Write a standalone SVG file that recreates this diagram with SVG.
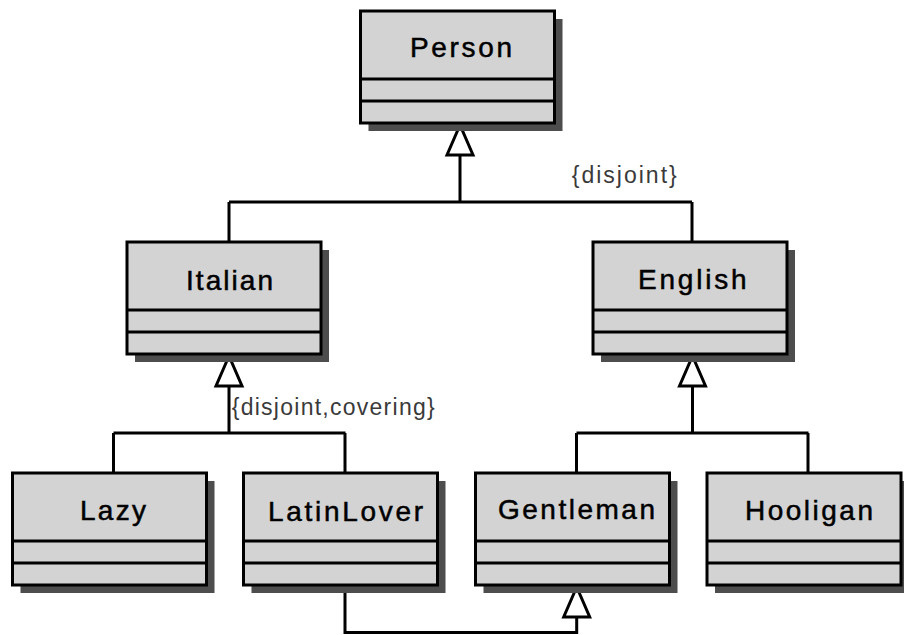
<svg xmlns="http://www.w3.org/2000/svg" width="904" height="635" viewBox="0 0 904 635">
<style>
.shadow{fill:#4d4d4d;stroke:none}
.box{fill:#d3d3d3;stroke:#000;stroke-width:3}
.div{stroke:#000;stroke-width:3}
.name{font-family:"Liberation Sans",Arial,sans-serif;font-size:28px;fill:#000;stroke:#000;stroke-width:0.5}
.conn{fill:none;stroke:#000;stroke-width:3}
.tri{fill:#fff;stroke:#000;stroke-width:3;stroke-linejoin:miter}
.lbl{font-family:"Liberation Sans",Arial,sans-serif;font-size:23px;fill:#3a3a3a}
</style>
<rect width="904" height="635" fill="#fff"/>
<g id="connectors">
<path class="conn" d="M460,155 V202 M229,202 H692 M229,202 V242 M692,202 V242"/>
<polygon class="tri" points="460,125 447,155 473,155"/>
<path class="conn" d="M229,386 V433 M113.5,433 H345.5 M113.5,433 V473 M345,433 V473"/>
<polygon class="tri" points="229,356 216,386 242,386"/>
<path class="conn" d="M692.5,386 V433 M576.5,433 H808.5 M576.5,433 V473 M808,433 V473"/>
<polygon class="tri" points="692.5,356 679.5,386 705.5,386"/>
<path class="conn" d="M345,585 V632.5 H576.7 V617"/>
<polygon class="tri" points="576.7,587 563.7,617 589.7,617"/>
<text class="lbl" x="571.7" y="183" textLength="105" lengthAdjust="spacing">{disjoint}</text>
<text class="lbl" x="231.7" y="415" textLength="203" lengthAdjust="spacing">{disjoint,covering}</text>
</g>
<g id="Person">
<rect class="shadow" x="368.5" y="19" width="194" height="112"/>
<rect class="box" x="360.5" y="11" width="194" height="112"/>
<line class="div" x1="360.5" y1="79" x2="554.5" y2="79"/>
<line class="div" x1="360.5" y1="101" x2="554.5" y2="101"/>
<text class="name" x="410" y="57" textLength="102" lengthAdjust="spacing">Person</text>
</g>
<g id="Italian">
<rect class="shadow" x="135" y="250" width="194" height="112"/>
<rect class="box" x="127" y="242" width="194" height="112"/>
<line class="div" x1="127" y1="310" x2="321" y2="310"/>
<line class="div" x1="127" y1="332" x2="321" y2="332"/>
<text class="name" x="186" y="290" textLength="87" lengthAdjust="spacing">Italian</text>
</g>
<g id="English">
<rect class="shadow" x="601" y="250" width="194" height="112"/>
<rect class="box" x="593" y="242" width="194" height="112"/>
<line class="div" x1="593" y1="310" x2="787" y2="310"/>
<line class="div" x1="593" y1="332" x2="787" y2="332"/>
<text class="name" x="638" y="289" textLength="108.7" lengthAdjust="spacing">English</text>
</g>
<g id="Lazy">
<rect class="shadow" x="20.5" y="481" width="194" height="112"/>
<rect class="box" x="12.5" y="473" width="194" height="112"/>
<line class="div" x1="12.5" y1="541" x2="206.5" y2="541"/>
<line class="div" x1="12.5" y1="563" x2="206.5" y2="563"/>
<text class="name" x="80" y="520" textLength="66" lengthAdjust="spacing">Lazy</text>
</g>
<g id="LatinLover">
<rect class="shadow" x="251.5" y="481" width="194" height="112"/>
<rect class="box" x="243.5" y="473" width="194" height="112"/>
<line class="div" x1="243.5" y1="541" x2="437.5" y2="541"/>
<line class="div" x1="243.5" y1="563" x2="437.5" y2="563"/>
<text class="name" x="268" y="521" textLength="155" lengthAdjust="spacing">LatinLover</text>
</g>
<g id="Gentleman">
<rect class="shadow" x="483.5" y="481" width="194" height="112"/>
<rect class="box" x="475.5" y="473" width="194" height="112"/>
<line class="div" x1="475.5" y1="541" x2="669.5" y2="541"/>
<line class="div" x1="475.5" y1="563" x2="669.5" y2="563"/>
<text class="name" x="498" y="519" textLength="157" lengthAdjust="spacing">Gentleman</text>
</g>
<g id="Hooligan">
<rect class="shadow" x="715" y="481" width="194" height="112"/>
<rect class="box" x="707" y="473" width="194" height="112"/>
<line class="div" x1="707" y1="541" x2="901" y2="541"/>
<line class="div" x1="707" y1="563" x2="901" y2="563"/>
<text class="name" x="745" y="520" textLength="128" lengthAdjust="spacing">Hooligan</text>
</g>
</svg>
